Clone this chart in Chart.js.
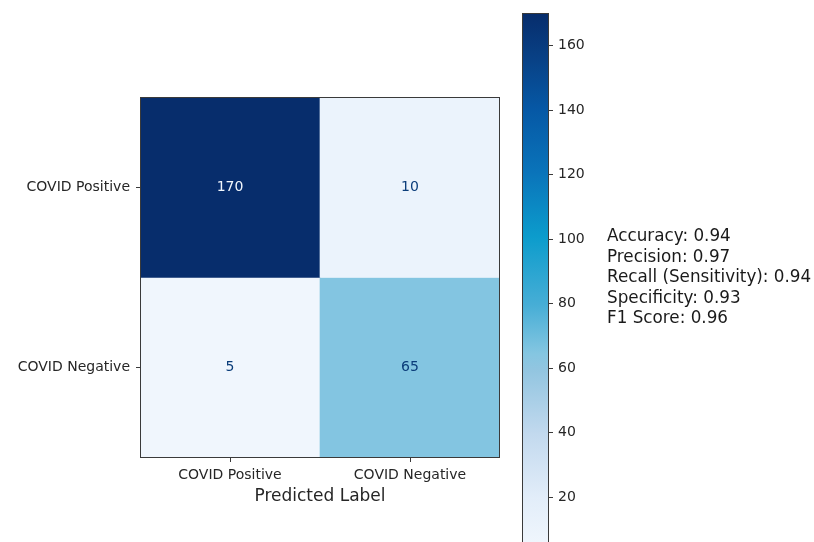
<!DOCTYPE html>
<html>
<head>
<meta charset="utf-8">
<script src="https://cdn.jsdelivr.net/npm/chart.js@4.4.1/dist/chart.umd.min.js"></script>
<style>
  html, body { margin: 0; padding: 0; background: #ffffff; overflow: hidden; }
  #wrap { position: relative; width: 814px; height: 542px; }
  #matrix { position: absolute; left: 0; top: 0; }
  #cbar { position: absolute; left: 500px; top: 0; }
  #metrics {
    position: absolute; left: 607px; top: 225px;
    font-family: "DejaVu Sans", sans-serif; font-size: 16.8px; line-height: 20.5px;
    color: #1a1a1a; white-space: pre;
  }
</style>
</head>
<body>
<div id="wrap">
  <canvas id="matrix" width="510" height="542"></canvas>
  <canvas id="cbar" width="110" height="560"></canvas>
  <div id="metrics"></div>
</div>
<script>
// Class labels (rows = true label, columns = predicted label)
const trueLabels = ['COVID Positive', 'COVID Negative'];
const predLabels = ['COVID Positive', 'COVID Negative'];

// Confusion-matrix counts, one array per true-label row
const rowPositive = [170, 10];
const rowNegative = [5, 65];
const matrixRows = [rowPositive, rowNegative];

// Colour-bar range and tick values
const cbarMin = 5;
const cbarMax = 170;
const cbarTicks = [20, 40, 60, 80, 100, 120, 140, 160];

// Summary metrics shown beside the colour bar
const metricNames = ['Accuracy', 'Precision', 'Recall (Sensitivity)', 'Specificity', 'F1 Score'];
const metricValues = [0.94, 0.97, 0.94, 0.93, 0.96];

// Blues-style colour ramp (fraction of range -> colour)
const ramp = [
  [0.00, [240, 246, 253]],
  [0.09, [226, 237, 249]],
  [0.21, [194, 217, 238]],
  [0.33, [146, 197, 224]],
  [0.36, [133, 198, 225]],
  [0.45, [72, 174, 214]],
  [0.58, [12, 156, 204]],
  [0.70, [10, 116, 186]],
  [0.82, [6, 88, 165]],
  [0.91, [8, 66, 135]],
  [1.00, [7, 45, 108]]
];

function rampColour(v) {
  const t = Math.min(1, Math.max(0, (v - cbarMin) / (cbarMax - cbarMin)));
  for (let i = 1; i < ramp.length; i++) {
    const [t1, c1] = ramp[i];
    const [t0, c0] = ramp[i - 1];
    if (t <= t1) {
      const f = (t - t0) / (t1 - t0);
      const c = c0.map((x, k) => Math.round(x + (c1[k] - x) * f));
      return `rgb(${c[0]},${c[1]},${c[2]})`;
    }
  }
  const c = ramp[ramp.length - 1][1];
  return `rgb(${c[0]},${c[1]},${c[2]})`;
}

const FONT = '"DejaVu Sans", sans-serif';
const TEXT = '#262626';
const EDGE = '#3a3a3a';

// Frame around the plotting area
const frame = {
  id: 'frame',
  afterDatasetsDraw(chart) {
    const { ctx, chartArea: a } = chart;
    ctx.save();
    ctx.strokeStyle = EDGE;
    ctx.lineWidth = 1;
    ctx.strokeRect(Math.round(a.left) + 0.5, Math.round(a.top) + 0.5,
                   Math.round(a.right - a.left) - 1, Math.round(a.bottom - a.top) - 1);
    ctx.restore();
  }
};

// Count written in the middle of each cell
const cellText = {
  id: 'cellText',
  afterDatasetsDraw(chart) {
    const { ctx } = chart;
    ctx.save();
    ctx.font = '14px ' + FONT;
    ctx.textAlign = 'center';
    ctx.textBaseline = 'middle';
    chart.data.datasets.forEach((ds, r) => {
      chart.getDatasetMeta(r).data.forEach((bar, c) => {
        const v = matrixRows[r][c];
        const p = bar.getProps(['x', 'y', 'base'], true);
        ctx.fillStyle = v > (cbarMax + cbarMin) / 2 ? '#f2f7fd' : '#0b3d7a';
        ctx.fillText(String(v), p.x, (p.y + p.base) / 2);
      });
    });
    ctx.restore();
  }
};

new Chart(document.getElementById('matrix'), {
  type: 'bar',
  data: {
    labels: predLabels,
    datasets: matrixRows.map((row, r) => ({
      label: trueLabels[r],
      data: row.map(() => [r, r + 1]),
      backgroundColor: row.map(v => rampColour(v)),
      borderWidth: 0,
      barPercentage: 1,
      categoryPercentage: 1,
      grouped: false
    }))
  },
  options: {
    responsive: false,
    animation: false,
    devicePixelRatio: 1,
    layout: { padding: { top: 97, right: 10, left: 0, bottom: 0 } },
    plugins: { legend: { display: false }, tooltip: { enabled: false } },
    scales: {
      x: {
        type: 'category',
        offset: true,
        grid: { display: true, drawOnChartArea: false, offset: false, tickLength: 4, color: EDGE },
        border: { display: false },
        ticks: { color: TEXT, font: { family: FONT, size: 14 }, padding: 5, maxRotation: 0 },
        title: {
          display: true, text: 'Predicted Label', color: TEXT,
          font: { family: FONT, size: 17 }, padding: { top: 0, bottom: 35 }
        },
        afterFit(axis) { axis.height = 84; }
      },
      y: {
        type: 'linear',
        min: 0, max: 2, reverse: true,
        grid: { display: true, drawOnChartArea: false, tickLength: 4, color: EDGE },
        border: { display: false },
        afterBuildTicks(axis) { axis.ticks = trueLabels.map((_, i) => ({ value: i + 0.5 })); },
        ticks: {
          color: TEXT, font: { family: FONT, size: 14 }, padding: 6,
          callback(value, index) { return trueLabels[index]; }
        },
        afterFit(axis) { axis.width = 140; }
      }
    }
  },
  plugins: [frame, cellText]
});

// Colour bar: one floating bar filled with the ramp
new Chart(document.getElementById('cbar'), {
  type: 'bar',
  data: {
    labels: [''],
    datasets: [{
      data: [[cbarMin, cbarMax]],
      borderWidth: 0,
      barPercentage: 1,
      categoryPercentage: 1,
      backgroundColor(context) {
        const chart = context.chart;
        const y = chart.scales.y;
        if (!chart.chartArea || !y) return rampColour(cbarMin);
        const g = chart.ctx.createLinearGradient(0, y.getPixelForValue(cbarMin), 0, y.getPixelForValue(cbarMax));
        ramp.forEach(([t]) => g.addColorStop(t, rampColour(cbarMin + t * (cbarMax - cbarMin))));
        return g;
      }
    }]
  },
  options: {
    responsive: false,
    animation: false,
    devicePixelRatio: 1,
    layout: { padding: { top: 12, left: 22, bottom: 14.5, right: 0 } },
    plugins: { legend: { display: false }, tooltip: { enabled: false } },
    scales: {
      x: { display: false },
      y: {
        type: 'linear', position: 'right',
        min: cbarMin, max: cbarMax,
        grid: { display: true, drawOnChartArea: false, tickLength: 4, color: EDGE },
        border: { display: false },
        afterBuildTicks(axis) { axis.ticks = cbarTicks.map(v => ({ value: v })); },
        ticks: { color: TEXT, font: { family: FONT, size: 14 }, padding: 5 },
        afterFit(axis) { axis.width = 61; }
      }
    }
  },
  plugins: [frame]
});

document.getElementById('metrics').textContent =
  metricNames.map((n, i) => `${n}: ${metricValues[i].toFixed(2)}`).join('\n');
</script>
</body>
</html>
